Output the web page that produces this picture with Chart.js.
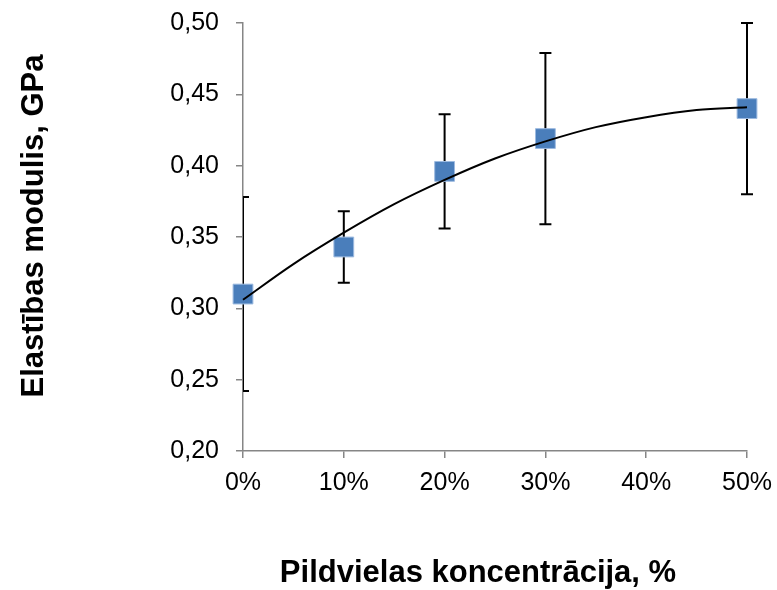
<!DOCTYPE html>
<html>
<head>
<meta charset="utf-8">
<script src="https://cdn.jsdelivr.net/npm/chart.js@4"></script>
<style>
html, body { margin: 0; padding: 0; background: #fff; }
</style>
</head>
<body>
<canvas id="myChart" width="777" height="590"></canvas>
<script>
// mērījumi
const koncentracija = [0, 0.10, 0.20, 0.30, 0.50];
const modulis = [0.310, 0.343, 0.396, 0.419, 0.440];
const kluda = [0.068, 0.025, 0.040, 0.060, 0.060];

// trenda līnija, nolasīta no attēla
const trendX = [0, 0.05, 0.10, 0.15, 0.20, 0.25, 0.30, 0.35, 0.40, 0.45, 0.50];
const trendY = [0.306, 0.331, 0.353, 0.373, 0.390, 0.405, 0.417, 0.427, 0.434, 0.439, 0.441];

const xTicks = [0, 0.1, 0.2, 0.3, 0.4, 0.5];
const yTicks = [0.20, 0.25, 0.30, 0.35, 0.40, 0.45, 0.50];

const xTitle = "Pildvielas koncentrācija, %";
const yTitle = "Elastības modulis, GPa";

const fontFam = '"Liberation Sans", Arial, sans-serif';
const axisColor = '#868686';

const errorBars = {
    id: 'errorBars',
    beforeDatasetsDraw(chart) {
        const ctx = chart.ctx
        const xs = chart.scales.x
        const ys = chart.scales.y
        const area = chart.chartArea
        ctx.save()
        ctx.beginPath()
        ctx.rect(area.left, area.top - 2, area.right - area.left + 10, area.bottom - area.top + 4)
        ctx.clip()
        ctx.strokeStyle = '#000'
        ctx.lineWidth = 2
        koncentracija.forEach((k, i) => {
            const x = xs.getPixelForValue(k)
            const y1 = ys.getPixelForValue(modulis[i] + kluda[i])
            const y2 = ys.getPixelForValue(modulis[i] - kluda[i])
            ctx.beginPath()
            ctx.moveTo(x, y1); ctx.lineTo(x, y2)
            ctx.moveTo(x - 6, y1); ctx.lineTo(x + 6, y1)
            ctx.moveTo(x - 6, y2); ctx.lineTo(x + 6, y2)
            ctx.stroke()
        })
        ctx.restore()
    }
}

const axisTitles = {
    id: 'axisTitles',
    afterDraw(chart) {
        const ctx = chart.ctx
        ctx.save()
        ctx.fillStyle = '#000'
        ctx.font = 'bold 31px ' + fontFam
        ctx.textAlign = 'center'
        ctx.textBaseline = 'alphabetic'
        ctx.fillText(xTitle, 478, 582)
        ctx.translate(43, 226)
        ctx.rotate(-Math.PI / 2)
        ctx.fillText(yTitle, 0, 0)
        ctx.restore()
    }
}

const cvs = document.getElementById('myChart')
new Chart(cvs, {
    type: 'scatter',
    data: {
        datasets: [{
            label: 'Elastības modulis',
            data: koncentracija.map((k, i) => ({x: k, y: modulis[i]})),
            pointStyle: 'rect',
            pointRadius: 14,
            pointHoverRadius: 14,
            backgroundColor: '#4a7ebb',
            borderColor: '#9dbbe0',
            borderWidth: 1,
            clip: false,
            order: 2
        }, {
            type: 'line',
            label: 'Trends',
            data: trendX.map((k, i) => ({x: k, y: trendY[i]})),
            borderColor: '#000',
            borderWidth: 2,
            pointRadius: 0,
            fill: false,
            cubicInterpolationMode: 'monotone',
            clip: false,
            order: 1
        }]
    },
    options: {
        responsive: false,
        animation: false,
        events: [],
        layout: { padding: { top: 23, right: 30, left: 0, bottom: 0 } },
        plugins: {
            legend: { display: false },
            tooltip: { enabled: false }
        },
        scales: {
            x: {
                type: 'linear',
                min: 0,
                max: 0.5,
                afterBuildTicks: (s) => { s.ticks = xTicks.map(v => ({value: v})) },
                afterFit: (s) => {
                    s.height = 139
                    s.paddingLeft = 0
                    s.paddingRight = 0
                },
                grid: { drawOnChartArea: false, drawTicks: true, tickLength: 7, color: axisColor, lineWidth: 1.5 },
                border: { color: axisColor, width: 1.5 },
                ticks: {
                    padding: 10,
                    color: '#000',
                    font: { family: fontFam, size: 25 },
                    callback: (v) => Math.round(v * 100) + '%'
                }
            },
            y: {
                min: 0.2,
                max: 0.5,
                afterBuildTicks: (s) => { s.ticks = yTicks.map(v => ({value: v})) },
                afterFit: (s) => {
                    s.width = 243
                    s.paddingTop = 0
                    s.paddingBottom = 0
                },
                grid: { drawOnChartArea: false, drawTicks: true, tickLength: 7, color: axisColor, lineWidth: 1.5 },
                border: { color: axisColor, width: 1.5 },
                ticks: {
                    padding: 17,
                    color: '#000',
                    font: { family: fontFam, size: 25 },
                    callback: (v) => v.toFixed(2).replace('.', ',')
                }
            }
        }
    },
    plugins: [errorBars, axisTitles]
});
</script>
</body>
</html>
